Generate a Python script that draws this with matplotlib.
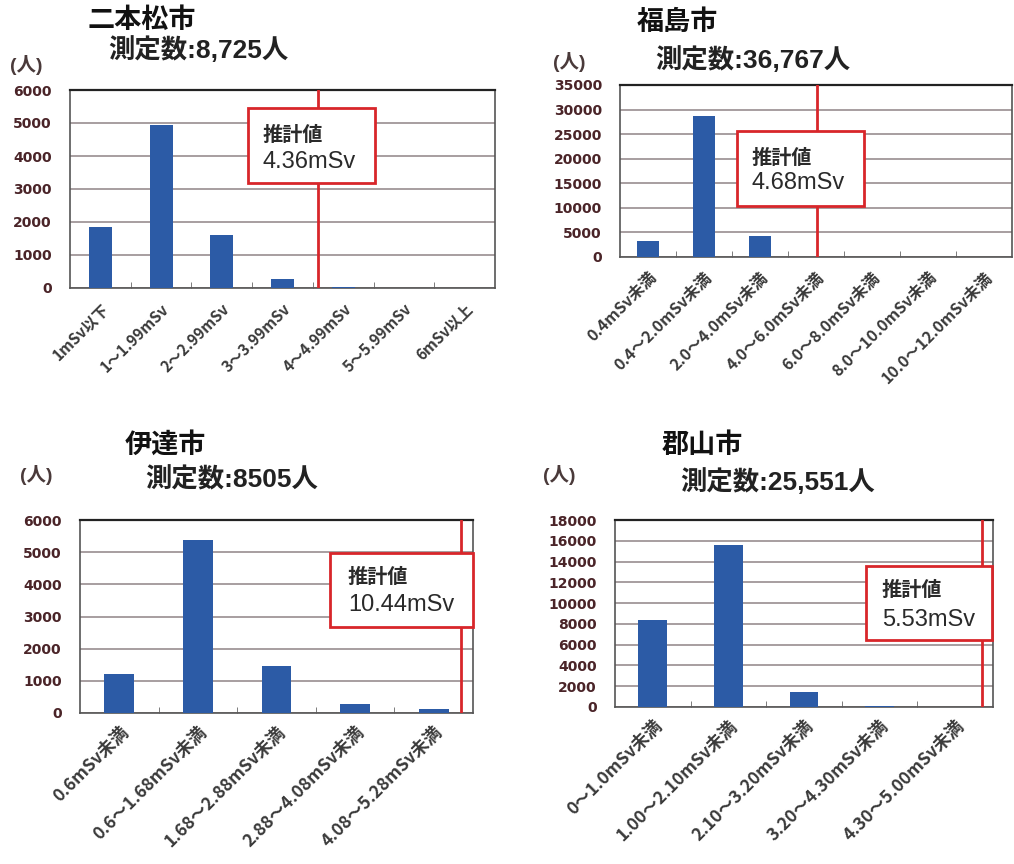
import matplotlib
matplotlib.use('Agg')
import matplotlib.pyplot as plt
import numpy as np
from matplotlib.patches import Rectangle

plt.rcParams['font.family'] = ['Noto Sans CJK JP', 'DejaVu Sans']

# 二本松市
nihonmatsu_cats = ['1mSv以下', '1～1.99mSv', '2～2.99mSv', '3～3.99mSv',
                   '4～4.99mSv', '5～5.99mSv', '6mSv以上']
nihonmatsu_vals = [1850, 4940, 1600, 270, 20, 5, 0]

# 福島市
fukushima_cats = ['0.4mSv未満', '0.4～2.0mSv未満', '2.0～4.0mSv未満', '4.0～6.0mSv未満',
                  '6.0～8.0mSv未満', '8.0～10.0mSv未満', '10.0～12.0mSv未満']
fukushima_vals = [3300, 28750, 4300, 100, 20, 5, 0]

# 伊達市
date_cats = ['0.6mSv未満', '0.6～1.68mSv未満', '1.68～2.88mSv未満',
             '2.88～4.08mSv未満', '4.08～5.28mSv未満']
date_vals = [1200, 5380, 1470, 270, 120]

# 郡山市
koriyama_cats = ['0～1.0mSv未満', '1.00～2.10mSv未満', '2.10～3.20mSv未満',
                 '3.20～4.30mSv未満', '4.30～5.00mSv未満']
koriyama_vals = [8400, 15600, 1400, 60, 0]

cities = ['二本松市', '福島市', '伊達市', '郡山市']
counts = ['測定数:8,725人', '測定数:36,767人', '測定数:8505人', '測定数:25,551人']
estimates = ['4.36mSv', '4.68mSv', '10.44mSv', '5.53mSv']
ymax = [6000, 35000, 6000, 18000]
ystep = [1000, 5000, 1000, 2000]

W, H = 1014, 864
fig = plt.figure(figsize=(W / 100, H / 100), dpi=100)
fig.patch.set_facecolor('white')

def px_axes(x0, y0, x1, y1):
    return fig.add_axes([x0 / W, 1 - y1 / H, (x1 - x0) / W, (y1 - y0) / H])

def ftext(x, y, s, **kw):
    fig.text(x / W, 1 - y / H, s, va='center', ha='left', **kw)

# panel layout in pixels
boxes = [(70, 90, 495, 288), (620, 85, 1012, 257), (80, 520, 473, 713), (615, 520, 993, 707)]
red_x = [3.58, 3.02, 4.35, 4.35]
est_rect = [(0.419, 0.53, 0.299, 0.379), (0.298, 0.297, 0.325, 0.436),
            (0.636, 0.446, 0.364, 0.383), (0.664, 0.358, 0.333, 0.396)]
est_txt = [(0.454, 0.773, 0.636), (0.336, 0.58, 0.43),
           (0.682, 0.705, 0.56), (0.706, 0.626, 0.465)]
title_pos = [((88, 20), (108, 50), (10, 65)), ((637, 22), (655, 60), (553, 62)),
             ((125, 445), (145, 480), (20, 475)), ((662, 445), (680, 482), (543, 475))]
xlab_size = [11, 11.5, 12.5, 12.5]
xlab_pad = [9, 9, 7, 7]

data = [(nihonmatsu_cats, nihonmatsu_vals), (fukushima_cats, fukushima_vals),
        (date_cats, date_vals), (koriyama_cats, koriyama_vals)]

bar_col = '#2c5ba6'
red = '#d8262a'
tick_col = '#4a2428'
mixed = ['Liberation Sans', 'Noto Sans CJK JP']

for i, (cats, vals) in enumerate(data):
    ax = px_axes(*boxes[i])
    n = len(cats)
    x = np.arange(n)
    ax.bar(x, vals, width=0.38, color=bar_col, zorder=3)
    ax.set_xlim(-0.5, n - 0.5)
    ax.set_ylim(0, ymax[i])
    ax.set_yticks(np.arange(0, ymax[i] + 1, ystep[i]))
    ax.yaxis.grid(True, color='#8f8486', linewidth=1.1, zorder=1)
    ax.set_axisbelow(True)
    ax.tick_params(axis='y', length=0, labelcolor=tick_col, pad=13)
    for lab in ax.get_yticklabels():
        lab.set_fontweight('bold')
        lab.set_fontfamily('DejaVu Sans')
        lab.set_fontsize(10)
    ax.set_xticks(x)
    ax.set_xticklabels(cats, rotation=45, ha='right', rotation_mode='anchor',
                       fontsize=xlab_size[i], fontweight='bold', color='#3a3a3a')
    ax.tick_params(axis='x', length=0, pad=xlab_pad[i])
    ax.set_xticks(np.arange(0.5, n - 0.5), minor=True)
    ax.tick_params(axis='x', which='minor', direction='in', length=4, color='#666666')
    for s in ax.spines.values():
        s.set_color('#555555')
        s.set_linewidth(1.2)
    ax.spines['top'].set_color('#222222')
    ax.spines['top'].set_linewidth(1.6)

    ax.axvline(red_x[i], color=red, linewidth=2, zorder=4)
    rx, ry, rw, rh = est_rect[i]
    ax.add_patch(Rectangle((rx, ry), rw, rh, transform=ax.transAxes,
                           facecolor='white', edgecolor=red, linewidth=2,
                           zorder=5, clip_on=False))
    tx, ty1, ty2 = est_txt[i]
    ax.text(tx, ty1, '推計値', transform=ax.transAxes, fontsize=14.5,
            fontweight='bold', color='#2a2a2a', va='center', ha='left', zorder=6)
    ax.text(tx, ty2, estimates[i], transform=ax.transAxes, fontsize=17,
            family='Liberation Sans', color='#2a2a2a', va='center', ha='left', zorder=6)

    (cx, cy), (mx, my), (ux, uy) = title_pos[i]
    ftext(cx, cy, cities[i], fontsize=19.5, fontweight='bold', color='#111111')
    ftext(mx, my, counts[i], fontsize=19, fontweight='bold', family=mixed, color='#222222')
    ftext(ux, uy, '(人)', fontsize=14, fontweight='bold', family=mixed, color='#4a3a3a')

fig.savefig('out.png', dpi=100, facecolor='white')
